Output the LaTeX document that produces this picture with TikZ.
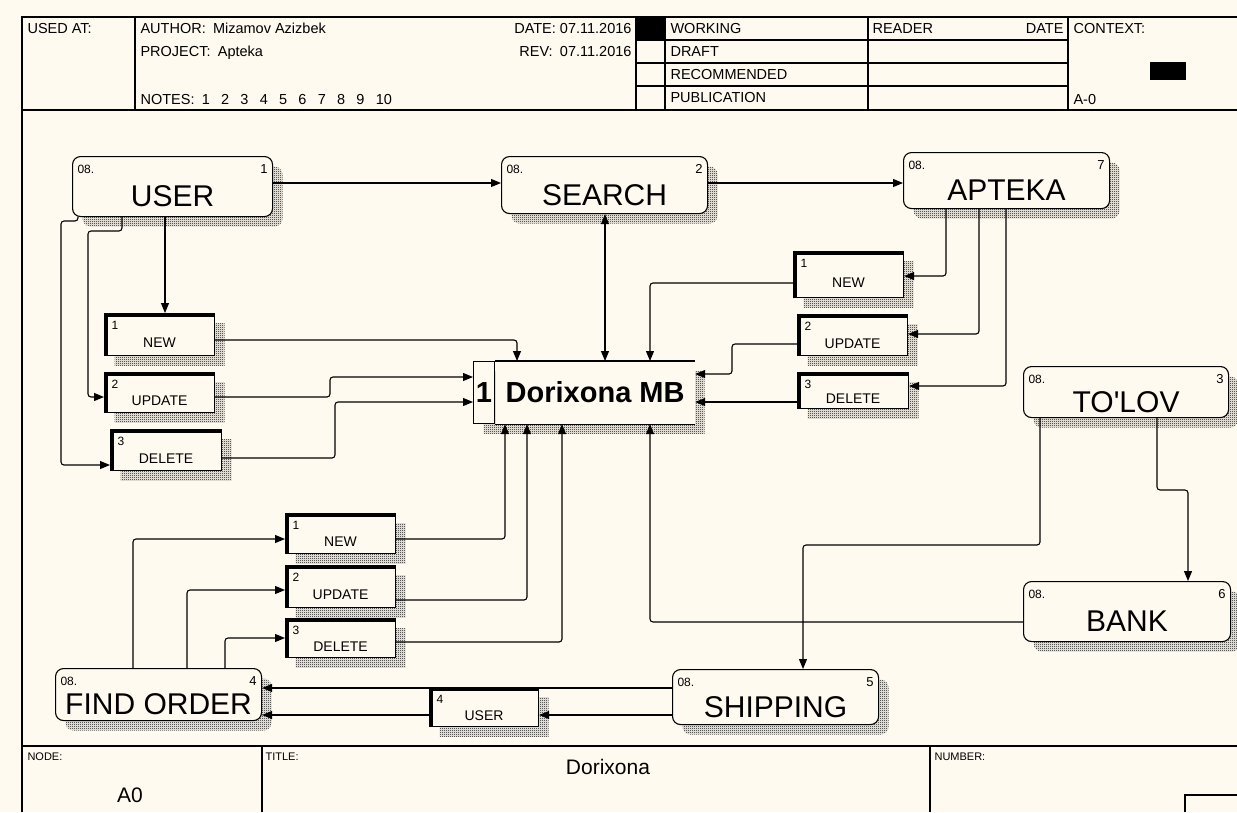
\documentclass[tikz,border=0pt]{standalone}
\usepackage{fontspec}
\setmainfont{Liberation Sans}
\usetikzlibrary{positioning,arrows.meta,shadows,patterns}
\definecolor{paper}{RGB}{255,250,240}
\pgfdeclarepatternformonly{chk}{\pgfqpoint{0pt}{0pt}}{\pgfqpoint{2pt}{2pt}}{\pgfqpoint{2pt}{2pt}}{%
  \pgfpathrectangle{\pgfqpoint{0pt}{0pt}}{\pgfqpoint{1pt}{1pt}}%
  \pgfpathrectangle{\pgfqpoint{1pt}{1pt}}{\pgfqpoint{1pt}{1pt}}%
  \pgfusepath{fill}}
\newcommand\fs[1]{\fontsize{#1}{#1}\selectfont}

\begin{document}
\begin{tikzpicture}[x=1pt, y=-1pt, line width=1.1pt,
  hatch/.style={general shadow={shadow xshift=10pt, shadow yshift=-10pt, draw=none, pattern=chk, pattern color=black}},
  tagl/.style={anchor=north west, xshift=5pt, yshift=-8pt, inner sep=0pt, text height=9pt, text depth=0pt, font=\fs{12}},
  tagr/.style={anchor=north east, xshift=-5pt, yshift=-8pt, inner sep=0pt, text height=9pt, text depth=0pt, font=\fs{13}},
  tagx/.style={anchor=north west, xshift=7pt, yshift=-7pt, inner sep=0pt, text height=9pt, text depth=0pt, font=\fs{12}},
  act/.style={draw, fill=paper, rounded corners=8pt, hatch, anchor=north west, inner sep=2pt, font=\fs{30}, text height=40pt, text depth=0pt, label={[tagl]north west:08.}},
  ext/.style={draw, fill=paper, hatch, anchor=north west, inner sep=2pt, font=\fs{14}, text height=26pt, text depth=0pt},
  arr/.style={-{Triangle[length=10pt,width=8pt]}, rounded corners=3pt},
  darr/.style={{Triangle[length=10pt,width=8pt]}-{Triangle[length=10pt,width=8pt]}},
  hdr/.style={anchor=base west, inner sep=0pt, font=\fs{14.5}},
  ftr/.style={anchor=base west, inner sep=0pt, font=\fs{11}}
]
\useasboundingbox (0,0) rectangle (1237,812);
\fill[paper] (0,0) rectangle (1237,812);

\draw[line width=1.4pt] (22,812) -- (22,17) -- (1237,17);
\draw[line width=1.4pt] (22,110) -- (1237,110) (22,746) -- (1237,746);
\foreach \x in {135,636,665,868,1068} \draw[line width=1.4pt] (\x,17) -- (\x,110);
\foreach \y in {40,63,86} \draw (636,\y) -- (1068,\y);
\fill (636,17) rectangle (665,40);
\fill (1150,62) rectangle (1186,80);
\foreach \x in {262,930} \draw[line width=1.4pt] (\x,746) -- (\x,812);
\draw (1185,812) -- (1185,795) -- (1237,795);

\node[hdr] (usedat) at (27,33) {USED AT:};
\node[hdr] (author) at (140,33) {AUTHOR:\enspace Mizamov Azizbek};
\node[hdr] (project) at (140,56) {PROJECT:\enspace Apteka};
\node[hdr] (notes) at (140,104) {NOTES:\enspace 1 \enspace 2 \enspace 3 \enspace 4 \enspace 5 \enspace 6 \enspace 7 \enspace 8 \enspace 9 \enspace 10};
\node[hdr, anchor=base east] (date) at (632,33) {DATE: 07.11.2016};
\node[hdr, anchor=base east] (rev) at (632,56) {REV:\enspace 07.11.2016};
\node[hdr] (working) at (670,33) {WORKING};
\node[hdr] (draft) at (670,56) {DRAFT};
\node[hdr] (recommended) at (670,79) {RECOMMENDED};
\node[hdr] (publication) at (670,102) {PUBLICATION};
\node[hdr] (reader) at (872,33) {READER};
\node[hdr, anchor=base east] (rdate) at (1064,33) {DATE};
\node[hdr] (context) at (1073,33) {CONTEXT:};
\node[hdr] (azero) at (1073,104) {A-0};

\node[ftr] (nodelbl) at (27,760) {NODE:};
\node[ftr] (titlelbl) at (265,760) {TITLE:};
\node[ftr] (numberlbl) at (934,760) {NUMBER:};
\node[anchor=base, inner sep=0pt, font=\fs{21}] (title) at (608,774) {Dorixona};
\node[anchor=base, inner sep=0pt, font=\fs{21}] (nodeid) at (130,802) {A0};

\node[act, minimum width=200pt, minimum height=60pt, label={[tagr]north east:1}] (user) at (72,156) {USER};
\node[act, minimum width=206pt, minimum height=57pt, label={[tagr]north east:2}] (search) at (501,156) {SEARCH};
\node[act, minimum width=206pt, minimum height=56pt, label={[tagr]north east:7}] (apteka) at (903,152) {APTEKA};
\node[act, minimum width=205pt, minimum height=51pt, label={[tagr]north east:3}] (tolov) at (1023,366) {TO\textquotesingle LOV};
\node[act, minimum width=207pt, minimum height=60pt, label={[tagr]north east:6}] (bank) at (1023,581) {BANK};
\node[act, minimum width=206pt, minimum height=55pt, label={[tagr]north east:5}] (shipping) at (672,669) {SHIPPING};
\node[act, minimum width=206pt, minimum height=52pt, label={[tagr]north east:4}] (findorder) at (55,668) {FIND ORDER};

\node[draw, fill=paper, hatch, anchor=north west, minimum width=21pt, minimum height=62pt, inner sep=0pt, font=\bfseries\fs{29}] (dbid) at (473,361) {1};
\node[fill=paper, hatch, right=0pt of dbid, minimum width=199pt, minimum height=62pt, inner sep=0pt, font=\bfseries\fs{29}] (db) {Dorixona MB};
\draw (dbid.north east) -- (db.north east) (dbid.south east) -- (db.south east);

\node[ext, minimum width=110pt, minimum height=42pt, label={[tagx]north west:1}] (lnew) at (104,313) {NEW};
\node[ext, minimum width=110pt, minimum height=40pt, label={[tagx]north west:2}] (lupd) at (104,372) {UPDATE};
\node[ext, minimum width=111pt, minimum height=41pt, label={[tagx]north west:3}] (ldel) at (110,429) {DELETE};
\node[ext, minimum width=110pt, minimum height=46pt, label={[tagx]north west:1}] (rnew) at (793,251) {NEW};
\node[ext, minimum width=110pt, minimum height=41pt, label={[tagx]north west:2}] (rupd) at (797,314) {UPDATE};
\node[ext, minimum width=111pt, minimum height=36pt, label={[tagx]north west:3}] (rdel) at (797,372) {DELETE};
\node[ext, minimum width=110pt, minimum height=40pt, label={[tagx]north west:1}] (bnew) at (285,513) {NEW};
\node[ext, minimum width=110pt, minimum height=42pt, label={[tagx]north west:2}] (bupd) at (285,565) {UPDATE};
\node[ext, minimum width=110pt, minimum height=39pt, label={[tagx]north west:3}] (bdel) at (285,618) {DELETE};
\node[ext, minimum width=109pt, minimum height=39pt, label={[tagx]north west:4}] (uref) at (429,687) {USER};
\foreach \n in {lnew,lupd,ldel,rnew,rupd,rdel,bnew,bupd,bdel,uref}
  \draw[line width=4.5pt] ([xshift=2pt]\n.south west) |- ([yshift=-2pt]\n.north east);

\draw[arr] (user.east |- 0,183) -- (search.west |- 0,183);
\draw[arr] (search.east |- 0,183) -- (apteka.west |- 0,183);
\draw[darr] (search.south -| 605,0) -- (db.north -| 605,0);
\draw[arr] (user.south -| 165,0) -- (lnew.north -| 165,0);
\draw[arr] (user.south -| 122,0) |- (88,231) |- (lupd.west |- 0,397);
\draw[arr] (user.south -| 78,0) |- (61,221) |- (ldel.west |- 0,465);
\draw[arr] (lnew.east |- 0,340) -| (db.north -| 517,0);
\draw[arr] (lupd.east |- 0,397) -| (330,377) -- (dbid.west |- 0,377);
\draw[arr] (ldel.east |- 0,458) -| (335,402) -- (dbid.west |- 0,402);
\draw[arr] (apteka.south -| 946,0) |- (rnew.east |- 0,276);
\draw[arr] (apteka.south -| 979,0) |- (rupd.east |- 0,334);
\draw[arr] (apteka.south -| 1006,0) |- (rdel.east |- 0,386);
\draw[arr] (rnew.west |- 0,283) -| (db.north -| 650,0);
\draw[arr] (rupd.west |- 0,344) -| (732,374) -- (db.east |- 0,374);
\draw[arr] (rdel.west |- 0,402) -- (db.east |- 0,402);
\draw[arr] (tolov.south -| 1040,0) |- (803,545) -- (shipping.north -| 803,0);
\draw[arr] (tolov.south -| 1157,0) |- (1188,490) -- (bank.north -| 1188,0);
\draw[arr] (bank.west |- 0,622) -| (db.south -| 650,0);
\draw[arr] (shipping.west |- 0,688) -- (findorder.east |- 0,688);
\draw[arr] (shipping.west |- 0,715) -- (uref.east |- 0,715);
\draw[arr] (uref.west |- 0,715) -- (findorder.east |- 0,715);
\draw[arr] (findorder.north -| 133,0) |- (bnew.west |- 0,539);
\draw[arr] (findorder.north -| 187,0) |- (bupd.west |- 0,590);
\draw[arr] (findorder.north -| 225,0) |- (bdel.west |- 0,638);
\draw[arr] (bnew.east |- 0,539) -| (db.south -| 505,0);
\draw[arr] (bupd.east |- 0,600) -| (db.south -| 527,0);
\draw[arr] (bdel.east |- 0,642) -| (db.south -| 562,0);
\end{tikzpicture}
\end{document}
